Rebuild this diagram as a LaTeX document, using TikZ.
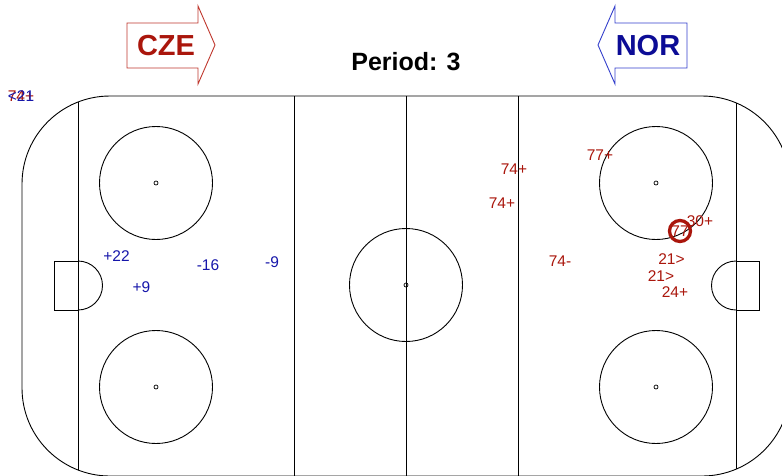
\documentclass[tikz,border=0pt]{standalone}
\usepackage{fontspec}
\setmainfont{Liberation Sans}
\definecolor{redtxt}{RGB}{170,22,12}
\definecolor{bluetxt}{RGB}{22,22,170}
\definecolor{czeline}{RGB}{192,56,46}
\definecolor{norline}{RGB}{52,64,204}
\definecolor{nortxt}{RGB}{12,12,150}
\tikzset{
  rink/.style={draw=black,line width=0.9pt},
  dotmark/.style={draw=black,line width=0.7pt},
  redlab/.style={text=redtxt,font=\fontsize{15.5}{15.5}\selectfont,inner sep=0pt},
  bluelab/.style={text=bluetxt,font=\fontsize{15.5}{15.5}\selectfont,inner sep=0pt},
  teamtxt/.style={font=\fontsize{29}{29}\selectfont\bfseries,inner sep=0pt},
}
\begin{document}
\begin{tikzpicture}[x=1pt,y=-1pt]
\useasboundingbox (0,0) rectangle (782,475);
\clip (0,0) rectangle (782,475);
\fill[white] (0,0) rectangle (782,475);
% rink outline
\draw[rink,rounded corners=88pt] (22,96) rectangle (790,476);
% goal lines
\draw[rink] (78,102) -- (78,470);
\draw[rink] (736,103) -- (736,469);
% blue lines and centre line
\draw[rink] (294,96) -- (294,476);
\draw[rink] (518,96) -- (518,476);
\draw[rink] (406,96) -- (406,476);
% creases
\draw[rink] (78,261) -- (54,261) -- (54,310) -- (78,310);
\draw[rink] (78,261) arc[start angle=90,end angle=-90,radius=24.5pt];
\draw[rink] (736,261) -- (759,261) -- (759,310) -- (736,310);
\draw[rink] (736,261) arc[start angle=90,end angle=270,radius=24.5pt];
% faceoff circles
\draw[rink] (156,183) circle[radius=56.5pt];
\draw[rink] (156,387) circle[radius=56.5pt];
\draw[rink] (656,183) circle[radius=56.5pt];
\draw[rink] (656,387) circle[radius=56.5pt];
\draw[rink] (406,285) circle[radius=56.5pt];
\foreach \p in {(156,183),(156,387),(656,183),(656,387),(406,285)}
  \draw[dotmark] \p circle[radius=2pt];
% team arrows
\draw[czeline,line width=0.9pt] (127,23) -- (198,23) -- (198,6) -- (215,45) -- (198,84) -- (198,68) -- (127,68) -- cycle;
\node[teamtxt,text=redtxt] (cze) at (166,46) {CZE};
\draw[norline,line width=0.9pt] (687,23) -- (615,23) -- (615,6) -- (598,45) -- (615,84) -- (615,68) -- (687,68) -- cycle;
\node[teamtxt,text=nortxt] (nor) at (648,46) {NOR};
\node[font=\fontsize{25}{25}\selectfont\bfseries,inner sep=0pt] (period) at (406,62) {Period: 3};
% events
\node[redlab] (r0) at (21,96) {74+};
\node[bluelab] (b0) at (21,96) {<21};
\node[redlab] (r1) at (600,155) {77+};
\node[redlab] (r2) at (514,169) {74+};
\node[redlab] (r3) at (502,203) {74+};
\node[redlab] (r4) at (700,221) {30+};
\node[redlab] (r5) at (680,231) {77};
\draw[redtxt,line width=3.3pt] (r5.center) circle[radius=10.5pt];
\node[redlab] (r6) at (560,261) {74-};
\node[redlab] (r7) at (671.5,259) {21>};
\node[redlab] (r8) at (661,276) {21>};
\node[redlab] (r9) at (675,292) {24+};
\node[bluelab] (b1) at (116.5,256.5) {+22};
\node[bluelab] (b2) at (141.5,287.5) {+9};
\node[bluelab] (b3) at (208,265) {-16};
\node[bluelab] (b4) at (272,262.5) {-9};
\end{tikzpicture}
\end{document}
